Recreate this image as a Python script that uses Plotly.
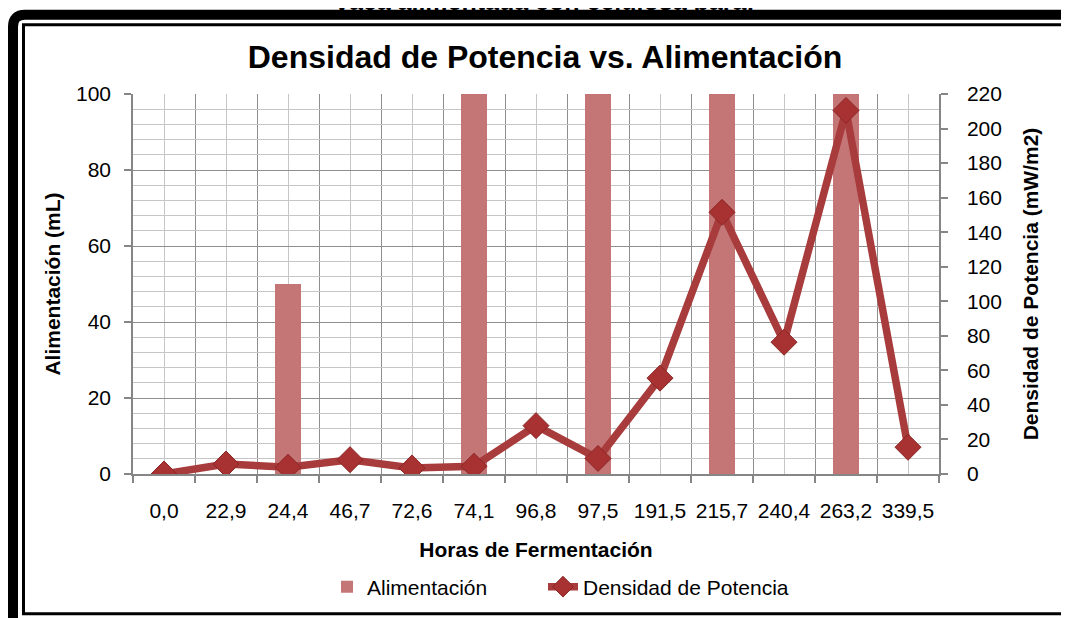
import plotly.graph_objects as go

# ---- data ----
categorias = ["0,0", "22,9", "24,4", "46,7", "72,6", "74,1", "96,8",
              "97,5", "191,5", "215,7", "240,4", "263,2", "339,5"]
alimentacion = [0, 0, 50, 0, 0, 100, 0, 100, 0, 100, 0, 100, 0]
densidad = [0, 5.8, 3.9, 8.3, 3.5, 4.5, 28, 9, 55.5, 151.5, 76.3, 210.5, 15.5]
y_left_ticks = [0, 20, 40, 60, 80, 100]
y_right_ticks = [0, 20, 40, 60, 80, 100, 120, 140, 160, 180, 200, 220]

# page offset of the figure (default body margin of the html page)
OFF = 8
W, H = 1069 - OFF, 618 - OFF
# plot area in page pixels: x 133..939, y 94..475
ML = 133 - OFF
MR = W - (939 - OFF)
MT = 94 - OFF
MB = H - (475 - OFF)
PW, PH = W - ML - MR, H - MT - MB

def px_x(p):  # page pixel -> paper x
    return (p - OFF - ML) / PW

def px_y(p):  # page pixel -> paper y
    return (H - MB - (p - OFF)) / PH

FONT = "Liberation Sans, Arial, sans-serif"
idx = list(range(len(categorias)))

fig = go.Figure()
fig.add_trace(go.Bar(
    x=idx, y=alimentacion, name="Alimentación",
    width=0.42, marker=dict(color="#c47676", line=dict(width=0)),
    yaxis="y", legend="legend"))
fig.add_trace(go.Scatter(
    x=idx, y=densidad, name="Densidad de Potencia", mode="lines+markers",
    line=dict(color="#a83c3c", width=7.5),
    marker=dict(symbol="diamond", size=20, color="#a83232",
                line=dict(color="#8c2626", width=1)),
    yaxis="y2", legend="legend2"))

grid_dark = "#8e8e8e"
grid_light = "#c6c6c6"
axis_col = "#868686"

legend_common = dict(orientation="h", xanchor="left", yanchor="middle",
                     font=dict(size=21, family=FONT, color="black"),
                     bgcolor="rgba(0,0,0,0)")

fig.update_layout(
    width=W, height=H,
    margin=dict(l=ML, r=MR, t=MT, b=MB, pad=0),
    paper_bgcolor="white", plot_bgcolor="white",
    font=dict(family=FONT, size=21, color="black"),
    title=dict(text="<b>Densidad de Potencia vs. Alimentación</b>",
               x=(545 - OFF) / W, xanchor="center", y=1 - (57 - OFF) / H,
               yanchor="middle",
               font=dict(size=32, family=FONT, color="black")),
    bargap=0,
    showlegend=True,
    legend=dict(x=px_x(327), y=px_y(587), **legend_common),
    legend2=dict(x=px_x(543), y=px_y(587), **legend_common),
    xaxis=dict(
        range=[-0.5, len(categorias) - 0.5],
        tickmode="array", tickvals=idx, ticktext=categorias,
        ticks="", showgrid=True, gridcolor=grid_light, gridwidth=1.3,
        minor=dict(tickmode="linear", tick0=-0.5, dtick=1, ticks="outside",
                   ticklen=7, tickcolor=axis_col, tickwidth=1.5,
                   showgrid=True, gridcolor=grid_dark, gridwidth=1.4),
        showline=True, linecolor=axis_col, linewidth=1.5,
        zeroline=False, automargin=False,
        ticklabelstandoff=17,
        tickfont=dict(size=21, color="black"),
        title=dict(text="<b>Horas de Fermentación</b>", standoff=21,
                   font=dict(size=21, color="black")),
    ),
    yaxis=dict(
        range=[0, 100], tickmode="array", tickvals=y_left_ticks,
        ticks="outside", ticklen=7, tickcolor=axis_col, tickwidth=1.5,
        showgrid=True, gridcolor=grid_dark, gridwidth=1.4,
        minor=dict(dtick=4, showgrid=True, gridcolor=grid_light, gridwidth=1.3),
        showline=True, linecolor=axis_col, linewidth=1.5,
        zeroline=False, automargin=False,
        ticklabelstandoff=9,
        tickfont=dict(size=21, color="black"),
        title=dict(text="<b>Alimentación (mL)</b>", standoff=10,
                   font=dict(size=21, color="black")),
    ),
    yaxis2=dict(
        range=[0, 220], tickmode="array", tickvals=y_right_ticks,
        overlaying="y", side="right", anchor="x",
        ticks="outside", ticklen=7, tickcolor=axis_col, tickwidth=1.5,
        showgrid=False, showline=True, linecolor=axis_col, linewidth=1.5,
        zeroline=False, automargin=False,
        ticklabelstandoff=15,
        tickfont=dict(size=21, color="black"),
        title=dict(text="<b>Densidad de Potencia (mW/m2)</b>", standoff=22,
                   font=dict(size=21, color="black")),
    ),
)

# frame: thick outer rounded border + thin inner border (page pixels)
r = 12
outer_path = (
    f"M {px_x(13)} {px_y(700)} L {px_x(13)} {px_y(14.5 + r)} "
    f"Q {px_x(13)} {px_y(14.5)} {px_x(13 + r)} {px_y(14.5)} "
    f"L {px_x(1200)} {px_y(14.5)}"
)
fig.add_shape(type="path", path=outer_path, xref="paper", yref="paper",
              line=dict(color="black", width=10))
fig.add_shape(type="rect", xref="paper", yref="paper",
              x0=px_x(23.5), x1=px_x(1067), y0=px_y(615), y1=px_y(24.5),
              line=dict(color="black", width=3), fillcolor="rgba(0,0,0,0)")

# partially visible caption above the frame (cut by the page edge)
fig.add_annotation(text="<b>vaca alimentada con celulosa para:</b>",
                   xref="paper", yref="paper", x=px_x(545), y=px_y(1),
                   xanchor="center", yanchor="middle", showarrow=False,
                   font=dict(size=25, family=FONT, color="black"))

fig.write_html("out.html")
